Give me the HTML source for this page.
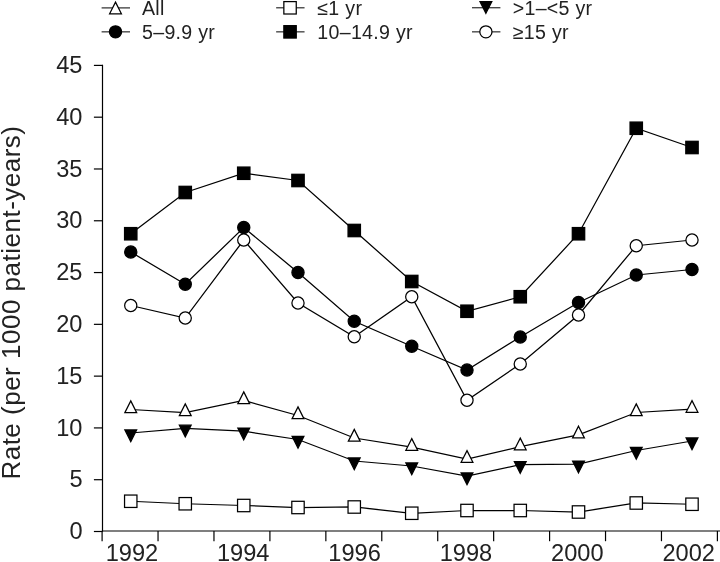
<!DOCTYPE html>
<html><head><meta charset="utf-8"><title>Rate per 1000 patient-years</title>
<style>html,body{margin:0;padding:0;background:#fff}svg{display:block}</style></head>
<body>
<svg width="720" height="562" viewBox="0 0 720 562" font-family="'Liberation Sans', sans-serif" fill="#222">
<rect width="720" height="562" fill="#fff"/>
<g stroke="#000" stroke-width="1.2" fill="none">
<path d="M102.5 64.80V531.5"/>
<path d="M101.9 531.0H720" stroke-width="1.1"/>
<path d="M93.9 531.50H102.5" stroke-width="1.2"/>
<path d="M93.9 479.71H102.5" stroke-width="1.2"/>
<path d="M93.9 427.92H102.5" stroke-width="1.2"/>
<path d="M93.9 376.13H102.5" stroke-width="1.2"/>
<path d="M93.9 324.34H102.5" stroke-width="1.2"/>
<path d="M93.9 272.56H102.5" stroke-width="1.2"/>
<path d="M93.9 220.77H102.5" stroke-width="1.2"/>
<path d="M93.9 168.98H102.5" stroke-width="1.2"/>
<path d="M93.9 117.19H102.5" stroke-width="1.2"/>
<path d="M93.9 65.40H102.5" stroke-width="1.2"/>
<path d="M102.10 531.0V541.2" stroke-width="1.2"/>
<path d="M158.04 531.0V541.2" stroke-width="1.2"/>
<path d="M213.97 531.0V541.2" stroke-width="1.2"/>
<path d="M269.91 531.0V541.2" stroke-width="1.2"/>
<path d="M325.85 531.0V541.2" stroke-width="1.2"/>
<path d="M381.78 531.0V541.2" stroke-width="1.2"/>
<path d="M437.72 531.0V541.2" stroke-width="1.2"/>
<path d="M493.65 531.0V541.2" stroke-width="1.2"/>
<path d="M549.59 531.0V541.2" stroke-width="1.2"/>
<path d="M605.53 531.0V541.2" stroke-width="1.2"/>
<path d="M661.46 531.0V541.2" stroke-width="1.2"/>
<path d="M717.40 531.0V541.2" stroke-width="1.2"/>
</g>
<g font-size="23.6" text-anchor="end">
<text x="82.5" y="539.10">0</text>
<text x="82.5" y="487.31">5</text>
<text x="82.5" y="435.52">10</text>
<text x="82.5" y="383.73">15</text>
<text x="82.5" y="331.94">20</text>
<text x="82.5" y="280.16">25</text>
<text x="82.5" y="228.37">30</text>
<text x="82.5" y="176.58">35</text>
<text x="82.5" y="124.79">40</text>
<text x="82.5" y="73.00">45</text>
</g>
<g font-size="23.6" text-anchor="middle">
<text x="131.90" y="561.4">1992</text>
<text x="243.25" y="561.4">1994</text>
<text x="354.60" y="561.4">1996</text>
<text x="465.95" y="561.4">1998</text>
<text x="577.30" y="561.4">2000</text>
<text x="688.65" y="561.4">2002</text>
</g>
<text font-size="26" letter-spacing="0.5" transform="translate(19.6 479.6) rotate(-90)">Rate (per 1000 patient-years)</text>
<polyline points="130.75,409.50 185.25,412.50 243.75,400.50 298.00,415.50 354.25,438.00 411.75,447.20 467.00,459.20 520.25,446.70 578.50,434.80 636.25,412.50 692.00,409.20" fill="none" stroke="#000" stroke-width="1.25"/>
<path d="M130.75 400.90L136.65 412.60L124.85 412.60Z" fill="#fff" stroke="#000" stroke-width="1.25"/>
<path d="M185.25 403.90L191.15 415.60L179.35 415.60Z" fill="#fff" stroke="#000" stroke-width="1.25"/>
<path d="M243.75 391.90L249.65 403.60L237.85 403.60Z" fill="#fff" stroke="#000" stroke-width="1.25"/>
<path d="M298.00 406.90L303.90 418.60L292.10 418.60Z" fill="#fff" stroke="#000" stroke-width="1.25"/>
<path d="M354.25 429.40L360.15 441.10L348.35 441.10Z" fill="#fff" stroke="#000" stroke-width="1.25"/>
<path d="M411.75 438.60L417.65 450.30L405.85 450.30Z" fill="#fff" stroke="#000" stroke-width="1.25"/>
<path d="M467.00 450.60L472.90 462.30L461.10 462.30Z" fill="#fff" stroke="#000" stroke-width="1.25"/>
<path d="M520.25 438.10L526.15 449.80L514.35 449.80Z" fill="#fff" stroke="#000" stroke-width="1.25"/>
<path d="M578.50 426.20L584.40 437.90L572.60 437.90Z" fill="#fff" stroke="#000" stroke-width="1.25"/>
<path d="M636.25 403.90L642.15 415.60L630.35 415.60Z" fill="#fff" stroke="#000" stroke-width="1.25"/>
<path d="M692.00 400.60L697.90 412.30L686.10 412.30Z" fill="#fff" stroke="#000" stroke-width="1.25"/>
<polyline points="130.75,501.25 185.25,503.75 243.75,505.50 298.00,507.50 354.25,507.00 411.75,513.25 467.00,510.50 520.25,510.50 578.50,512.00 636.25,503.00 692.00,504.25" fill="none" stroke="#000" stroke-width="1.25"/>
<rect x="124.55" y="495.05" width="12.4" height="12.4" fill="#fff" stroke="#000" stroke-width="1.25"/>
<rect x="179.05" y="497.55" width="12.4" height="12.4" fill="#fff" stroke="#000" stroke-width="1.25"/>
<rect x="237.55" y="499.30" width="12.4" height="12.4" fill="#fff" stroke="#000" stroke-width="1.25"/>
<rect x="291.80" y="501.30" width="12.4" height="12.4" fill="#fff" stroke="#000" stroke-width="1.25"/>
<rect x="348.05" y="500.80" width="12.4" height="12.4" fill="#fff" stroke="#000" stroke-width="1.25"/>
<rect x="405.55" y="507.05" width="12.4" height="12.4" fill="#fff" stroke="#000" stroke-width="1.25"/>
<rect x="460.80" y="504.30" width="12.4" height="12.4" fill="#fff" stroke="#000" stroke-width="1.25"/>
<rect x="514.05" y="504.30" width="12.4" height="12.4" fill="#fff" stroke="#000" stroke-width="1.25"/>
<rect x="572.30" y="505.80" width="12.4" height="12.4" fill="#fff" stroke="#000" stroke-width="1.25"/>
<rect x="630.05" y="496.80" width="12.4" height="12.4" fill="#fff" stroke="#000" stroke-width="1.25"/>
<rect x="685.80" y="498.05" width="12.4" height="12.4" fill="#fff" stroke="#000" stroke-width="1.25"/>
<polyline points="130.75,433.00 185.25,428.30 243.75,431.20 298.00,439.50 354.25,461.00 411.75,466.00 467.00,476.00 520.25,464.70 578.50,464.20 636.25,450.50 692.00,441.00" fill="none" stroke="#000" stroke-width="1.25"/>
<path d="M130.75 441.60L136.65 429.90L124.85 429.90Z" fill="#000" stroke="#000" stroke-width="1.25"/>
<path d="M185.25 436.90L191.15 425.20L179.35 425.20Z" fill="#000" stroke="#000" stroke-width="1.25"/>
<path d="M243.75 439.80L249.65 428.10L237.85 428.10Z" fill="#000" stroke="#000" stroke-width="1.25"/>
<path d="M298.00 448.10L303.90 436.40L292.10 436.40Z" fill="#000" stroke="#000" stroke-width="1.25"/>
<path d="M354.25 469.60L360.15 457.90L348.35 457.90Z" fill="#000" stroke="#000" stroke-width="1.25"/>
<path d="M411.75 474.60L417.65 462.90L405.85 462.90Z" fill="#000" stroke="#000" stroke-width="1.25"/>
<path d="M467.00 484.60L472.90 472.90L461.10 472.90Z" fill="#000" stroke="#000" stroke-width="1.25"/>
<path d="M520.25 473.30L526.15 461.60L514.35 461.60Z" fill="#000" stroke="#000" stroke-width="1.25"/>
<path d="M578.50 472.80L584.40 461.10L572.60 461.10Z" fill="#000" stroke="#000" stroke-width="1.25"/>
<path d="M636.25 459.10L642.15 447.40L630.35 447.40Z" fill="#000" stroke="#000" stroke-width="1.25"/>
<path d="M692.00 449.60L697.90 437.90L686.10 437.90Z" fill="#000" stroke="#000" stroke-width="1.25"/>
<polyline points="130.75,252.00 185.25,284.25 243.75,227.50 298.00,272.50 354.25,321.25 411.75,346.25 467.00,370.00 520.25,337.00 578.50,302.50 636.25,275.00 692.00,269.50" fill="none" stroke="#000" stroke-width="1.25"/>
<circle cx="130.75" cy="252.00" r="6.1" fill="#000" stroke="#000" stroke-width="1.25"/>
<circle cx="185.25" cy="284.25" r="6.1" fill="#000" stroke="#000" stroke-width="1.25"/>
<circle cx="243.75" cy="227.50" r="6.1" fill="#000" stroke="#000" stroke-width="1.25"/>
<circle cx="298.00" cy="272.50" r="6.1" fill="#000" stroke="#000" stroke-width="1.25"/>
<circle cx="354.25" cy="321.25" r="6.1" fill="#000" stroke="#000" stroke-width="1.25"/>
<circle cx="411.75" cy="346.25" r="6.1" fill="#000" stroke="#000" stroke-width="1.25"/>
<circle cx="467.00" cy="370.00" r="6.1" fill="#000" stroke="#000" stroke-width="1.25"/>
<circle cx="520.25" cy="337.00" r="6.1" fill="#000" stroke="#000" stroke-width="1.25"/>
<circle cx="578.50" cy="302.50" r="6.1" fill="#000" stroke="#000" stroke-width="1.25"/>
<circle cx="636.25" cy="275.00" r="6.1" fill="#000" stroke="#000" stroke-width="1.25"/>
<circle cx="692.00" cy="269.50" r="6.1" fill="#000" stroke="#000" stroke-width="1.25"/>
<polyline points="130.75,233.75 185.25,192.50 243.75,173.25 298.00,180.50 354.25,230.50 411.75,281.50 467.00,311.25 520.25,296.75 578.50,233.75 636.25,128.25 692.00,147.50" fill="none" stroke="#000" stroke-width="1.25"/>
<rect x="124.55" y="227.55" width="12.4" height="12.4" fill="#000" stroke="#000" stroke-width="1.25"/>
<rect x="179.05" y="186.30" width="12.4" height="12.4" fill="#000" stroke="#000" stroke-width="1.25"/>
<rect x="237.55" y="167.05" width="12.4" height="12.4" fill="#000" stroke="#000" stroke-width="1.25"/>
<rect x="291.80" y="174.30" width="12.4" height="12.4" fill="#000" stroke="#000" stroke-width="1.25"/>
<rect x="348.05" y="224.30" width="12.4" height="12.4" fill="#000" stroke="#000" stroke-width="1.25"/>
<rect x="405.55" y="275.30" width="12.4" height="12.4" fill="#000" stroke="#000" stroke-width="1.25"/>
<rect x="460.80" y="305.05" width="12.4" height="12.4" fill="#000" stroke="#000" stroke-width="1.25"/>
<rect x="514.05" y="290.55" width="12.4" height="12.4" fill="#000" stroke="#000" stroke-width="1.25"/>
<rect x="572.30" y="227.55" width="12.4" height="12.4" fill="#000" stroke="#000" stroke-width="1.25"/>
<rect x="630.05" y="122.05" width="12.4" height="12.4" fill="#000" stroke="#000" stroke-width="1.25"/>
<rect x="685.80" y="141.30" width="12.4" height="12.4" fill="#000" stroke="#000" stroke-width="1.25"/>
<polyline points="130.75,305.50 185.25,318.00 243.75,240.00 298.00,303.00 354.25,336.75 411.75,296.75 467.00,400.25 520.25,364.00 578.50,315.00 636.25,245.75 692.00,240.00" fill="none" stroke="#000" stroke-width="1.25"/>
<circle cx="130.75" cy="305.50" r="6.1" fill="#fff" stroke="#000" stroke-width="1.25"/>
<circle cx="185.25" cy="318.00" r="6.1" fill="#fff" stroke="#000" stroke-width="1.25"/>
<circle cx="243.75" cy="240.00" r="6.1" fill="#fff" stroke="#000" stroke-width="1.25"/>
<circle cx="298.00" cy="303.00" r="6.1" fill="#fff" stroke="#000" stroke-width="1.25"/>
<circle cx="354.25" cy="336.75" r="6.1" fill="#fff" stroke="#000" stroke-width="1.25"/>
<circle cx="411.75" cy="296.75" r="6.1" fill="#fff" stroke="#000" stroke-width="1.25"/>
<circle cx="467.00" cy="400.25" r="6.1" fill="#fff" stroke="#000" stroke-width="1.25"/>
<circle cx="520.25" cy="364.00" r="6.1" fill="#fff" stroke="#000" stroke-width="1.25"/>
<circle cx="578.50" cy="315.00" r="6.1" fill="#fff" stroke="#000" stroke-width="1.25"/>
<circle cx="636.25" cy="245.75" r="6.1" fill="#fff" stroke="#000" stroke-width="1.25"/>
<circle cx="692.00" cy="240.00" r="6.1" fill="#fff" stroke="#000" stroke-width="1.25"/>
<g font-size="19.6" letter-spacing="0.3">
<path d="M101.60 7.9H130.00" stroke="#222" stroke-width="1.15"/>
<path d="M115.50 2.10L121.40 13.80L109.60 13.80Z" fill="#fff" stroke="#000" stroke-width="1.25"/>
<text x="142" y="14.70">All</text>
<path d="M101.60 31.85H130.00" stroke="#222" stroke-width="1.15"/>
<circle cx="115.50" cy="31.85" r="6.1" fill="#000" stroke="#000" stroke-width="1.25"/>
<text x="142" y="39.30">5–9.9 yr</text>
<path d="M276.15 7.8H304.55" stroke="#222" stroke-width="1.15"/>
<rect x="283.85" y="1.60" width="12.4" height="12.4" fill="#fff" stroke="#000" stroke-width="1.25"/>
<text x="317.3" y="14.70">≤1 yr</text>
<path d="M276.15 31.85H304.55" stroke="#222" stroke-width="1.15"/>
<rect x="283.85" y="25.65" width="12.4" height="12.4" fill="#000" stroke="#000" stroke-width="1.25"/>
<text x="317.3" y="39.30">10–14.9 yr</text>
<path d="M472.00 7.75H500.40" stroke="#222" stroke-width="1.15"/>
<path d="M485.90 13.25L491.80 1.55L480.00 1.55Z" fill="#000" stroke="#000" stroke-width="1.25"/>
<text x="512.7" y="14.70">&gt;1–&lt;5 yr</text>
<path d="M472.00 31.85H500.40" stroke="#222" stroke-width="1.15"/>
<circle cx="485.90" cy="31.85" r="6.1" fill="#fff" stroke="#000" stroke-width="1.25"/>
<text x="512.7" y="39.30">≥15 yr</text>
</g>
</svg>
</body></html>
